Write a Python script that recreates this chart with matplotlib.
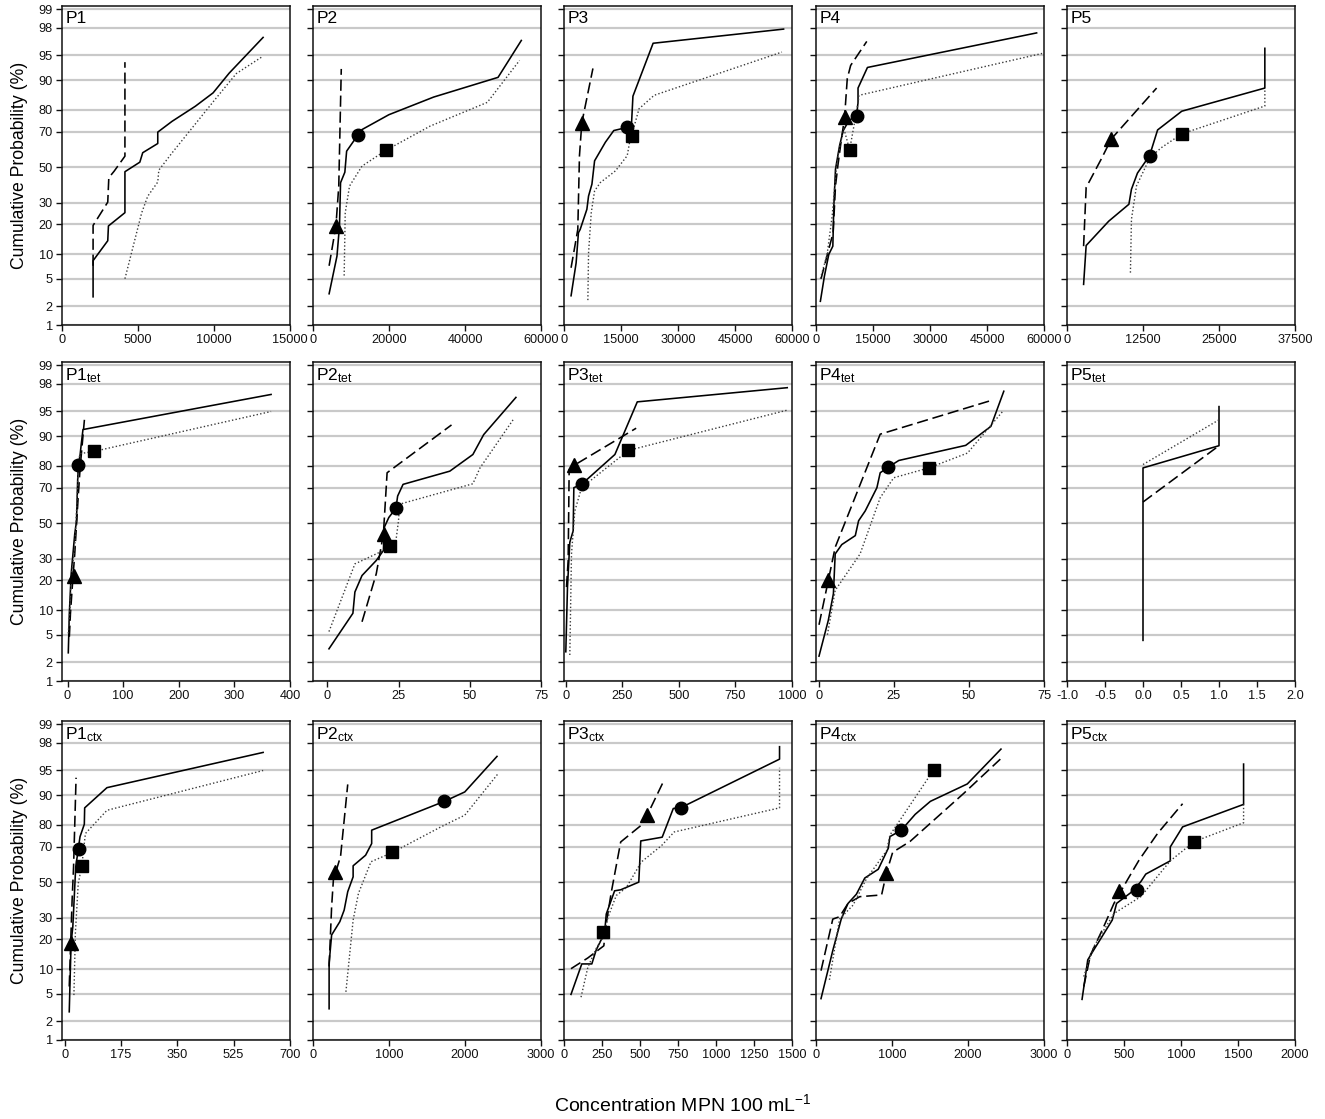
import numpy as np
import matplotlib
matplotlib.use("Agg")
import matplotlib.pyplot as plt
from matplotlib.ticker import FixedLocator, NullLocator, FormatStrFormatter, FuncFormatter
from statistics import NormalDist

plt.rcParams['font.family'] = ['Liberation Sans', 'DejaVu Sans']
plt.rcParams['mathtext.default'] = 'regular'

# ---------------- data (x = concentration, y = cumulative probability %) -------------
# Row 1 : P1..P5
p1_solid_x = [2045, 2045, 3010, 3055, 4140, 4140, 5120, 5310, 6300, 6300, 7240, 8770, 9940, 11000, 13230]
p1_solid_y = [2.8, 8.4, 13.9, 19.3, 25.1, 47.3, 52.9, 58.4, 63.6, 69.7, 75.0, 81.5, 86.3, 91.7, 97.2]
p1_dash_x = [2045, 2045, 3010, 3080, 3430, 4140, 4140]
p1_dash_y = [7.3, 19.5, 30.3, 43.8, 47.6, 56.4, 93.9]
p1_dot_x = [4140, 5240, 5640, 6300, 6370, 7240, 10060, 11470, 13230]
p1_dot_y = [5.0, 25.0, 33.4, 41.3, 48.2, 58.3, 84.0, 91.6, 94.9]

p2_solid_x = [4240, 6310, 6970, 7250, 8380, 8850, 11780, 12900, 19970, 31750, 48700, 54820]
p2_solid_y = [3.1, 9.5, 19.3, 40.9, 47.0, 59.3, 68.1, 71.0, 78.0, 84.9, 90.7, 96.9]
p2_dash_x = [4240, 6030, 6780, 7440]
p2_dash_y = [7.3, 19.3, 39.0, 92.6]
p2_dot_x = [8200, 8480, 9610, 12900, 19120, 30800, 45870, 54350]
p2_dot_y = [5.5, 25.0, 39.0, 50.6, 59.7, 72.7, 83.0, 94.2]
p2_circle = (11780, 68.1)
p2_triangle = (6030, 19.3)
p2_square = (19120, 59.7)

p3_solid_x = [1860, 3190, 3800, 4250, 6020, 6460, 7350, 8050, 10890, 13100, 14870, 16640, 17790, 18140, 23450, 57790]
p3_solid_y = [2.9, 7.9, 16.7, 17.9, 26.7, 33.5, 40.1, 53.7, 64.3, 70.5, 71.3, 72.2, 74.6, 85.2, 96.6, 97.9]
p3_dash_x = [1860, 3630, 4070, 4690, 7610]
p3_dash_y = [6.9, 17.9, 56.7, 74.3, 92.7]
p3_dot_x = [6280, 6460, 7170, 8050, 9560, 13540, 16640, 17260, 17790, 19740, 23720, 57350]
p3_dot_y = [2.5, 10.3, 25.1, 36.3, 41.0, 47.8, 56.7, 64.3, 67.9, 80.5, 85.5, 95.5]
p3_circle = (16640, 72.2)
p3_triangle = (4690, 74.3)
p3_square = (17970, 67.9)

p4_solid_x = [1150, 2210, 3360, 4430, 4690, 5130, 6200, 7170, 8670, 10710, 11060, 11060, 13540, 58060]
p4_solid_y = [2.4, 5.4, 9.9, 12.2, 28.3, 48.8, 62.4, 70.5, 75.4, 77.6, 83.1, 87.8, 92.9, 97.6]
p4_dash_x = [1330, 3100, 4510, 5130, 5750, 6460, 7520, 8230, 9120, 13360]
p4_dash_y = [5.0, 10.3, 16.7, 39.1, 50.8, 62.4, 76.9, 90.4, 93.3, 96.8]
p4_dot_x = [1150, 2920, 4250, 5400, 6280, 7350, 8850, 10000, 11060, 11330, 59500]
p4_dot_y = [5.0, 9.9, 23.5, 50.8, 62.4, 71.3, 60.1, 73.0, 82.8, 85.5, 95.3]
p4_circle = (10710, 77.6)
p4_triangle = (7520, 76.9)
p4_square = (8850, 60.1)

p5_solid_x = [2730, 3150, 6870, 10180, 10600, 11590, 13580, 14900, 18880, 32540, 32540]
p5_solid_y = [4.2, 12.4, 21.3, 29.2, 37.2, 46.5, 56.7, 70.8, 79.5, 87.8, 96.0]
p5_dash_x = [2730, 3150, 5630, 7290, 14740]
p5_dash_y = [12.2, 38.2, 54.7, 66.1, 87.8]
p5_dot_x = [10430, 10600, 11430, 13660, 15570, 18880, 32540, 32540]
p5_dot_y = [6.0, 22.1, 39.1, 55.7, 61.4, 68.8, 81.6, 87.1]
p5_circle = (13580, 56.7)
p5_triangle = (7290, 66.1)
p5_square = (18880, 68.8)

# Row 2 : tetracycline
t1_solid_x = [1.3, 3.2, 6.5, 12.9, 16.1, 18.1, 19.4, 22.6, 24.5, 27.7, 366]
t1_solid_y = [2.8, 9.2, 22.8, 43.6, 51.4, 73.2, 80.3, 84.4, 87.6, 91.6, 97.1]
t1_dash_x = [3.2, 5.2, 9.7, 12.9, 19.4, 22.6, 25.8, 30.3]
t1_dash_y = [4.7, 9.2, 21.3, 32.5, 66.4, 79.2, 86.6, 93.6]
t1_dot_x = [1.3, 4.5, 6.5, 12.9, 18.1, 19.4, 22.6, 48.4, 366]
t1_dot_y = [5.2, 10.9, 21.3, 36.1, 69.9, 81.9, 84.7, 85.5, 95.0]
t1_circle = (19.4, 80.3)
t1_triangle = (11.6, 21.8)
t1_square = (48.4, 85.5)

t2_solid_x = [0.6, 9.0, 9.7, 12.2, 17.2, 19.7, 20.0, 21.6, 24.1, 24.7, 26.6, 43.0, 51.1, 54.9, 66.2]
t2_solid_y = [3.2, 9.2, 15.5, 22.0, 29.1, 34.3, 47.5, 53.3, 58.7, 65.5, 71.6, 77.8, 84.4, 90.4, 96.8]
t2_dash_x = [12.2, 17.2, 19.7, 21.0, 43.6]
t2_dash_y = [7.3, 22.8, 43.6, 77.1, 92.6]
t2_dot_x = [0.6, 9.7, 19.7, 24.1, 25.0, 25.4, 51.1, 53.6, 65.6]
t2_dot_y = [5.5, 27.4, 34.3, 39.8, 51.4, 61.0, 71.9, 79.2, 93.9]
t2_circle = (24.1, 58.7)
t2_triangle = (20.0, 43.6)
t2_square = (22.0, 37.0)

t3_solid_x = [0, 7.4, 17.7, 32.5, 35.5, 69.5, 217, 316, 979]
t3_solid_y = [2.9, 17.3, 38.9, 45.5, 69.9, 71.6, 84.4, 96.3, 97.7]
t3_dash_x = [3.0, 10.4, 14.8, 37.0, 311]
t3_dash_y = [17.3, 29.1, 78.5, 80.3, 91.9]
t3_dot_x = [17.7, 25.1, 39.9, 69.5, 277, 979]
t3_dot_y = [2.6, 32.5, 57.1, 69.9, 85.8, 95.2]
t3_circle = (69.5, 71.6)
t3_triangle = (37.0, 80.3)
t3_square = (277, 85.8)

t4_solid_x = [0, 3.1, 4.8, 5.4, 7.6, 12.1, 13.2, 15.4, 19.3, 20.4, 23.2, 26.6, 48.9, 57.3, 61.6]
t4_solid_y = [2.5, 7.6, 14.9, 32.5, 37.6, 42.7, 51.4, 57.1, 69.9, 77.1, 79.6, 82.2, 87.4, 92.3, 97.4]
t4_dash_x = [0, 3.1, 5.4, 20.4, 56.8]
t4_dash_y = [6.7, 19.9, 36.1, 90.5, 96.4]
t4_dot_x = [2.8, 5.4, 13.7, 20.4, 24.9, 36.6, 49.5, 61.2]
t4_dot_y = [5.0, 16.1, 32.5, 64.6, 74.8, 79.2, 84.9, 95.0]
t4_circle = (23.0, 79.6)
t4_triangle = (3.1, 19.9)
t4_square = (36.6, 79.2)

t5_solid_x = [0, 0, 1, 1]
t5_solid_y = [4.2, 79.2, 87.3, 95.7]
t5_dash_x = [0, 1]
t5_dash_y = [62.2, 87.3]
t5_dot_x = [0, 1]
t5_dot_y = [80.6, 93.6]

# Row 3 : cefotaxime
c1_solid_x = [14.5, 20.1, 25.6, 34.6, 42.4, 47.9, 61.3, 62.4, 131.6, 616.6]
c1_solid_y = [2.8, 18.3, 25.6, 58.9, 68.4, 74.8, 80.3, 86.3, 91.8, 97.2]
c1_dash_x = [14.5, 19.0, 23.4, 27.9, 35.7]
c1_dash_y = [6.2, 18.6, 39.6, 58.9, 93.8]
c1_dot_x = [29.0, 33.5, 42.4, 53.5, 64.7, 131.6, 616.6]
c1_dot_y = [4.8, 22.5, 49.2, 59.5, 76.3, 85.5, 95.0]
c1_circle = (44.6, 68.6)
c1_triangle = (19.0, 18.6)
c1_square = (53.5, 59.5)

c2_solid_x = [212, 212, 245, 353, 410, 457, 528, 528, 692, 772, 772, 1729, 1997, 2421]
c2_solid_y = [3.1, 11.6, 21.8, 28.0, 34.0, 44.4, 53.1, 59.5, 65.4, 71.5, 77.8, 88.3, 90.8, 96.8]
c2_dash_x = [212, 245, 268, 363, 457]
c2_dash_y = [10.7, 35.8, 51.2, 64.9, 92.5]
c2_dot_x = [433, 528, 598, 763, 1046, 1682, 1997, 2435]
c2_dot_y = [5.3, 28.8, 43.4, 61.8, 66.9, 79.2, 83.8, 94.5]
c2_circle = (1729, 88.3)
c2_triangle = (292, 56.0)
c2_square = (1046, 66.9)

c3_solid_x = [46, 117, 183, 212, 267, 278, 333, 373, 492, 505, 646, 719, 770, 1418, 1418]
c3_solid_y = [4.9, 11.4, 11.4, 15.9, 22.7, 31.9, 44.9, 45.5, 50.0, 72.8, 74.6, 86.1, 86.4, 96.5, 97.7]
c3_dash_x = [46, 157, 262, 278, 311, 373, 520, 648]
c3_dash_y = [10.1, 13.2, 17.4, 27.1, 44.0, 72.3, 80.5, 92.7]
c3_dot_x = [112, 157, 212, 262, 289, 344, 410, 509, 642, 725, 1418, 1418]
c3_dot_y = [4.5, 10.5, 16.4, 21.4, 30.2, 42.2, 46.8, 61.7, 70.5, 77.0, 86.3, 95.4]
c3_circle = (770, 86.4)
c3_triangle = (549, 83.8)
c3_square = (258, 23.0)

c4_solid_x = [66, 221, 332, 420, 531, 642, 819, 951, 973, 1120, 1305, 1505, 1991, 2434]
c4_solid_y = [4.3, 15.7, 29.3, 37.6, 42.9, 52.4, 57.5, 69.1, 74.9, 77.7, 84.1, 88.3, 92.6, 97.5]
c4_dash_x = [66, 221, 310, 420, 575, 863, 929, 1009, 1239, 1947, 2425]
c4_dash_y = [9.6, 29.3, 30.5, 37.6, 41.5, 42.5, 55.7, 67.0, 72.6, 90.5, 96.5]
c4_dot_x = [177, 310, 487, 664, 929, 973, 1549]
c4_dot_y = [7.5, 29.3, 36.7, 52.0, 67.8, 75.6, 95.1]
c4_circle = (1120, 77.7)
c4_triangle = (920, 55.1)
c4_square = (1549, 95.1)

c5_solid_x = [132, 182, 235, 397, 435, 559, 647, 691, 906, 906, 1014, 1549, 1549]
c5_solid_y = [4.2, 12.6, 15.9, 28.8, 37.7, 43.8, 50.2, 54.7, 62.3, 69.8, 79.2, 87.4, 95.9]
c5_dash_x = [147, 206, 309, 412, 529, 632, 794, 1014]
c5_dash_y = [6.2, 14.2, 24.0, 37.7, 51.2, 62.7, 76.3, 87.6]
c5_dot_x = [147, 235, 412, 647, 906, 1117, 1549, 1549]
c5_dot_y = [8.2, 17.1, 32.2, 41.5, 62.3, 72.5, 80.9, 87.4]
c5_circle = (612, 45.3)
c5_triangle = (456, 44.9)
c5_square = (1117, 72.5)

panel_labels = ['P1', 'P2', 'P3', 'P4', 'P5',
                'P1$_{tet}$', 'P2$_{tet}$', 'P3$_{tet}$', 'P4$_{tet}$', 'P5$_{tet}$',
                'P1$_{ctx}$', 'P2$_{ctx}$', 'P3$_{ctx}$', 'P4$_{ctx}$', 'P5$_{ctx}$']
prob_ticks = [1, 2, 5, 10, 20, 30, 50, 70, 80, 90, 95, 98, 99]

x_ticks = [
    [0, 5000, 10000, 15000], [0, 20000, 40000, 60000], [0, 15000, 30000, 45000, 60000],
    [0, 15000, 30000, 45000, 60000], [0, 12500, 25000, 37500],
    [0, 100, 200, 300, 400], [0, 25, 50, 75], [0, 250, 500, 750, 1000], [0, 25, 50, 75],
    [-1.0, -0.5, 0.0, 0.5, 1.0, 1.5, 2.0],
    [0, 175, 350, 525, 700], [0, 1000, 2000, 3000], [0, 250, 500, 750, 1000, 1250, 1500],
    [0, 1000, 2000, 3000], [0, 500, 1000, 1500, 2000],
]
x_limits = [
    (0, 15000), (0, 60000), (0, 60000), (0, 60000), (0, 37500),
    (-10, 400), (-5, 75), (-8, 1000), (-1, 75), (-1, 2),
    (-8, 700), (0, 3000), (0, 1500), (0, 3000), (0, 2000),
]

g = globals()
def series(prefix, kind):
    return g[f'{prefix}_{kind}_x'], g[f'{prefix}_{kind}_y']

def marker(prefix, kind):
    return g.get(f'{prefix}_{kind}')

prefixes = ['p1', 'p2', 'p3', 'p4', 'p5', 't1', 't2', 't3', 't4', 't5', 'c1', 'c2', 'c3', 'c4', 'c5']

# ---------------- probability scale ----------------
_ND = NormalDist()
_ppf = np.vectorize(lambda v: _ND.inv_cdf(v), otypes=[float])
_cdf = np.vectorize(lambda v: _ND.cdf(v), otypes=[float])

def fwd(p):
    p = np.asarray(p, dtype=float)
    p = np.where(np.isfinite(p), p, 50.0)
    return _ppf(np.clip(p / 100.0, 1e-9, 1 - 1e-9))

def inv(z):
    z = np.asarray(z, dtype=float)
    return 100.0 * _cdf(z)

# ---------------- layout ----------------
W, H = 1325, 1119
fig = plt.figure(figsize=(W / 100, H / 100), dpi=100)
col_left = [62, 313, 564, 816, 1067]
row_top = [6, 362, 721]
aw, ah = 228, 319

for i, pre in enumerate(prefixes):
    r, c = divmod(i, 5)
    ax = fig.add_axes([col_left[c] / W, 1 - (row_top[r] + ah) / H, aw / W, ah / H])
    ax.set_yscale('function', functions=(fwd, inv))
    ax.set_ylim(1, 99.12)
    ax.set_xlim(*x_limits[i])
    ax.yaxis.set_major_locator(FixedLocator(prob_ticks))
    ax.yaxis.set_minor_locator(NullLocator())
    ax.yaxis.set_major_formatter(FuncFormatter(lambda v, pos: f'{v:g}'))
    ax.xaxis.set_major_locator(FixedLocator(x_ticks[i]))
    ax.xaxis.set_minor_locator(NullLocator())
    if pre == 't5':
        ax.xaxis.set_major_formatter(FormatStrFormatter('%.1f'))
    else:
        ax.xaxis.set_major_formatter(FormatStrFormatter('%d'))
    ax.grid(axis='y', color='#c9c9c9', lw=1.6)
    ax.set_axisbelow(True)
    for s in ax.spines.values():
        s.set_linewidth(1.1)
        s.set_color('#111111')
    ax.tick_params(direction='out', length=4, width=1, labelsize=9.2, pad=2.5,
                   colors='#111111', top=False, right=False)
    if c != 0:
        ax.tick_params(labelleft=False)

    sx, sy = series(pre, 'solid')
    ax.plot(sx, sy, color='black', lw=1.15, zorder=3)
    dx, dy = series(pre, 'dash')
    ax.plot(dx, dy, color='black', lw=1.15, dashes=(7, 3), zorder=3)
    ox, oy = series(pre, 'dot')
    ax.plot(ox, oy, color='#3a3a3a', lw=1.0, dashes=(1, 1.6), zorder=3)

    for kind, mk, ms in (('circle', 'o', 9), ('triangle', '^', 9.5), ('square', 's', 8)):
        m = marker(pre, kind)
        if m is not None:
            ax.plot([m[0]], [m[1]], marker=mk, ms=ms, color='black', ls='none', zorder=5)

    ax.text(0.015, 0.985, panel_labels[i], transform=ax.transAxes, ha='left', va='top',
            fontsize=12.5, color='black')

for r in range(3):
    yc = row_top[r] + ah / 2
    fig.text(20 / W, 1 - yc / H, 'Cumulative Probability (%)', rotation=90,
             ha='center', va='center', fontsize=12.7)

fig.text(683 / W, 1 - 1104 / H, 'Concentration MPN 100 mL$^{-1}$', ha='center', va='center',
         fontsize=14)

fig.savefig('out.png', dpi=100)
